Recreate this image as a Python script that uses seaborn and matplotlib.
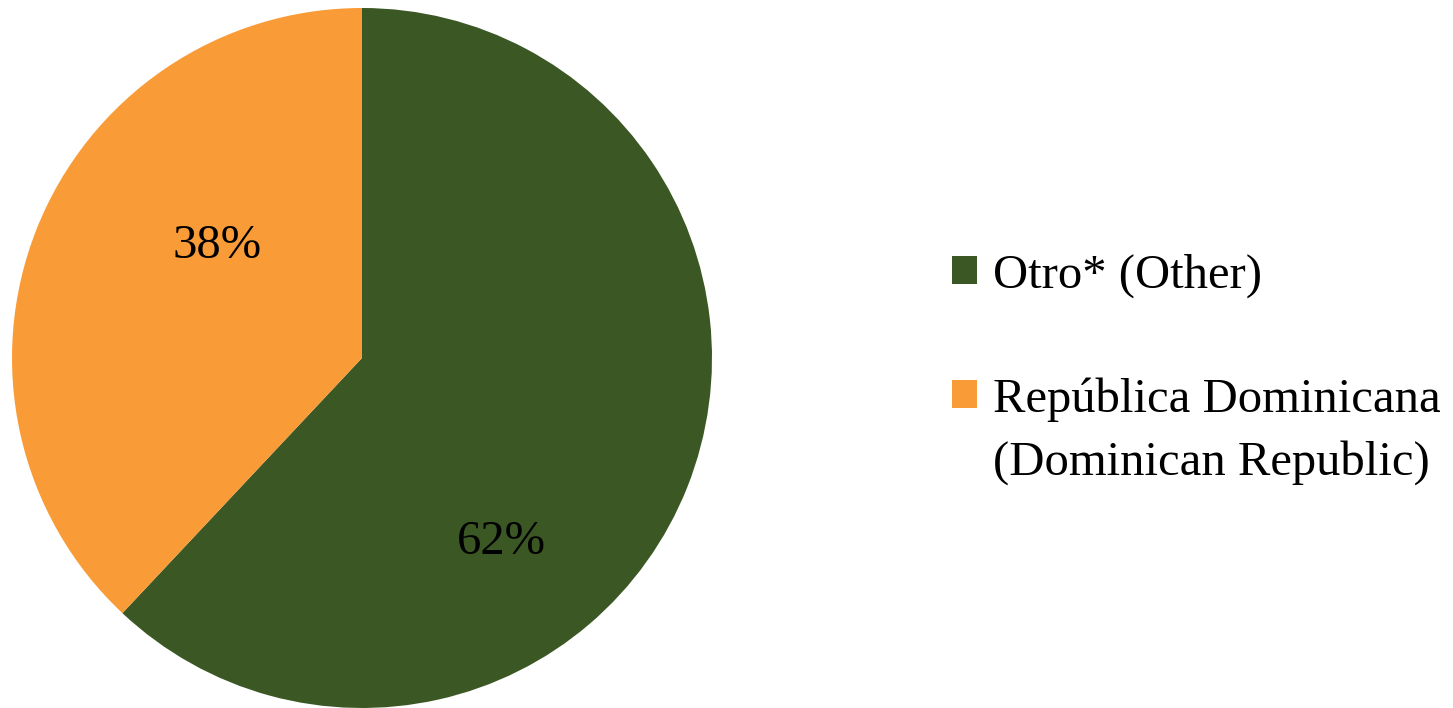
import matplotlib.pyplot as plt
import seaborn as sns

# data
categories = ["Otro* (Other)", "República Dominicana"]
second_lines = ["", "(Dominican Republic)"]
shares = [62, 38]
colors = ["#3B5724", "#F99B37"]

sns.set_theme(style="white")
plt.rcParams['font.family'] = ['Liberation Serif', 'DejaVu Serif']

W, H = 1453, 708
fig = plt.figure(figsize=(W / 100, H / 100), dpi=100)
ax = fig.add_axes([12 / W, 0.0, 700 / W, 700 / H])

wedges, _ = ax.pie(shares, colors=colors, startangle=90, counterclock=False,
                   radius=1.0, wedgeprops=dict(linewidth=0))
ax.set_xlim(-1, 1)
ax.set_ylim(-1, 1)
ax.set_aspect("equal")
ax.axis("off")

# label placement similar to the original (best-fit style)
label_pos = [(0.397, -0.527), (-0.414, 0.32)]
for val, (x, y) in zip(shares, label_pos):
    ax.text(x, y, f"{val}%", ha="center", va="center", fontsize=35, color="black")

leg = fig.legend(wedges, categories, loc="upper left", bbox_to_anchor=(933 / W, 1 - 234 / H),
                 frameon=False, fontsize=35, labelcolor="black", handlelength=0.5,
                 handleheight=0.5, handletextpad=0.33, labelspacing=1.63, borderaxespad=0)

# second line of wrapped legend labels, kept under the first line like the original
fig.canvas.draw()
for txt, extra in zip(leg.get_texts(), second_lines):
    if not extra:
        continue
    bb = txt.get_window_extent()
    fig.text(bb.x0 / W, (bb.y0 - 63) / H, extra, ha="left", va="bottom",
             fontsize=35, color="black")

fig.savefig("out.png", dpi=100)
